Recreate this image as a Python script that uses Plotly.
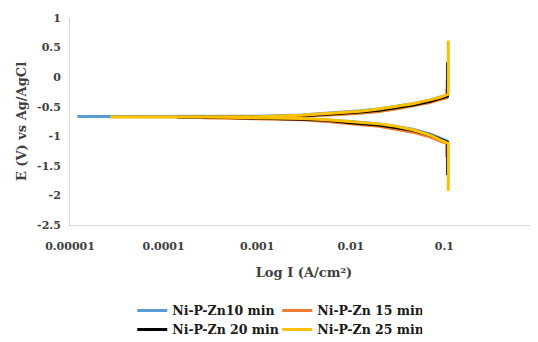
import plotly.graph_objects as go

# ---- data ----
names = ["Ni-P-Zn10 min", "Ni-P-Zn 15 min", "Ni-P-Zn 20 min", "Ni-P-Zn 25 min"]
colors = ["#5B9BD5", "#ED7D31", "#000000", "#FFC000"]

blue_I = [0.107, 0.107, 0.09, 0.07, 0.046, 0.028, 0.02, 0.01, 0.0056, 0.003, 0.001, 0.0003,
          1.2e-5, 0.0003, 0.001, 0.003, 0.006, 0.0126, 0.02, 0.03, 0.046, 0.07, 0.09, 0.107, 0.107]
blue_E = [-1.25, -1.08, -1.03, -0.96, -0.88, -0.82, -0.79, -0.75, -0.72, -0.70, -0.68, -0.67,
          -0.665, -0.665, -0.66, -0.64, -0.61, -0.57, -0.54, -0.50, -0.45, -0.39, -0.34, -0.30, -0.05]

orange_I = [0.106, 0.106, 0.09, 0.07, 0.046, 0.028, 0.02, 0.01, 0.0056, 0.003, 0.001, 0.0005,
            2.6e-4, 0.0005, 0.001, 0.003, 0.006, 0.0126, 0.02, 0.03, 0.046, 0.07, 0.09, 0.106, 0.106]
orange_E = [-1.35, -1.12, -1.08, -1.01, -0.93, -0.87, -0.83, -0.79, -0.75, -0.72, -0.70, -0.69,
            -0.685, -0.685, -0.68, -0.66, -0.64, -0.61, -0.58, -0.54, -0.49, -0.43, -0.38, -0.35, -0.2]

black_I = [0.108, 0.108, 0.09, 0.07, 0.046, 0.028, 0.02, 0.01, 0.0056, 0.003, 0.001, 0.0004,
           1.4e-4, 0.0004, 0.001, 0.003, 0.006, 0.0126, 0.02, 0.03, 0.046, 0.07, 0.09, 0.108, 0.108]
black_E = [-1.66, -1.10, -1.05, -0.98, -0.90, -0.84, -0.81, -0.77, -0.73, -0.71, -0.69, -0.68,
           -0.68, -0.68, -0.675, -0.655, -0.625, -0.59, -0.56, -0.52, -0.47, -0.41, -0.36, -0.32, 0.25]

yellow_I = [0.11, 0.11, 0.09, 0.07, 0.046, 0.028, 0.02, 0.01, 0.0056, 0.003, 0.001, 0.0003,
            2.7e-5, 0.0003, 0.001, 0.003, 0.006, 0.0126, 0.02, 0.03, 0.046, 0.07, 0.09, 0.11, 0.11]
yellow_E = [-1.92, -1.12, -1.06, -0.98, -0.89, -0.82, -0.79, -0.75, -0.72, -0.70, -0.685, -0.675,
            -0.675, -0.675, -0.67, -0.645, -0.615, -0.575, -0.54, -0.50, -0.45, -0.385, -0.34, -0.29, 0.62]

series_I = [blue_I, orange_I, black_I, yellow_I]
series_E = [blue_E, orange_E, black_E, yellow_E]
legend_ids = ["legend", "legend", "legend2", "legend2"]

x_tickvals = [0.00001, 0.0001, 0.001, 0.01, 0.1]
x_ticktext = ["0.00001", "0.0001", "0.001", "0.01", "0.1"]
y_tickvals = [1, 0.5, 0, -0.5, -1, -1.5, -2, -2.5]
y_ticktext = ["1", "0.5", "0", "-0.5", "-1", "-1.5", "-2", "-2.5"]

FONT = "DejaVu Serif"
legfont = dict(family=FONT, size=12.5, color="#1a1a1a", weight="bold")

fig = go.Figure()
for n, c, xi, ei, lg in zip(names, colors, series_I, series_E, legend_ids):
    fig.add_trace(go.Scatter(x=xi, y=ei, mode="lines", name=n, legend=lg,
                             line=dict(color=c, width=3)))

# page body has an 8px default margin, so the figure is 8px smaller than the window
fig.update_layout(
    width=530, height=334,
    margin=dict(l=62, r=0, t=10, b=117, autoexpand=False),
    paper_bgcolor="white", plot_bgcolor="white",
    font=dict(family=FONT, size=11, color="#404040"),
    showlegend=True,
    legend=dict(orientation="h", x=0.133, xanchor="left", y=0.093,
                yref="container", yanchor="middle",
                entrywidth=100, entrywidthmode="pixels", font=legfont, bgcolor="rgba(0,0,0,0)"),
    legend2=dict(orientation="h", x=0.133, xanchor="left", y=0.036,
                 yref="container", yanchor="middle",
                 entrywidth=100, entrywidthmode="pixels", font=legfont, bgcolor="rgba(0,0,0,0)"),
)
fig.update_xaxes(type="log", range=[-5, 0], tickvals=x_tickvals, ticktext=x_ticktext,
                 showgrid=False, zeroline=False, showline=True, linecolor="#D9D9D9", linewidth=1,
                 ticks="", ticklabelstandoff=11,
                 tickfont=dict(family=FONT, size=11, color="#404040", weight="bold"),
                 title=dict(text="Log I (A/cm²)", standoff=15,
                            font=dict(family=FONT, size=13, color="#404040", weight="bold")))
fig.update_yaxes(range=[-2.5, 1], tickvals=y_tickvals, ticktext=y_ticktext,
                 showgrid=False, zeroline=False, showline=True, linecolor="#D9D9D9", linewidth=1,
                 ticks="", ticklabelstandoff=6,
                 tickfont=dict(family=FONT, size=11, color="#404040", weight="bold"),
                 title=dict(text="E (V) vs Ag/AgCl", standoff=7,
                            font=dict(family=FONT, size=13, color="#404040", weight="bold")))

fig.write_html("out.html")
